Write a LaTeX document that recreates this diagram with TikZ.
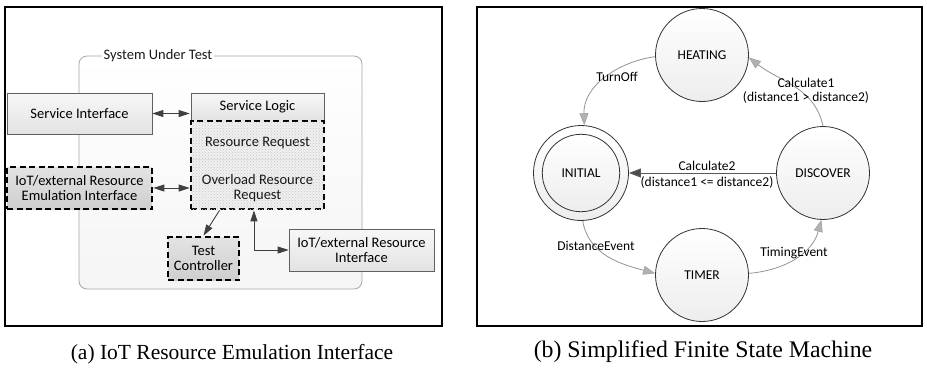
\documentclass[tikz,border=0pt]{standalone}
\usepackage{fontspec}
\setmainfont{Carlito}
\newfontfamily\capfont{Liberation Serif}
\usetikzlibrary{arrows.meta,patterns,calc}
\begin{document}
\begin{tikzpicture}[x=1pt,y=1pt,
  frame/.style={draw=black,line width=2.7pt},
  plainbox/.style={draw=gray!75!black,line width=0.8pt,top color=gray!6,bottom color=gray!22,
    font=\fontsize{14.5}{16}\selectfont,align=center,inner sep=1pt},
  dashbox/.style={draw=black,line width=2.8pt,dash pattern=on 6pt off 3.5pt,top color=gray!22,bottom color=gray!38,
    font=\fontsize{14.5}{16}\selectfont,align=center,inner sep=1pt},
  txt/.style={font=\fontsize{14.5}{16}\selectfont,align=center,text=black!90},
  conn/.style={draw=black!75,line width=0.9pt,{Triangle[length=11pt,width=7pt]}-{Triangle[length=11pt,width=7pt]}},
  conn1/.style={draw=black!75,line width=0.9pt,-{Triangle[length=11pt,width=7pt]}},
  fsmstate/.style={circle,draw=black!80,line width=0.8pt,top color=white,bottom color=gray!14,
    font=\fontsize{13.5}{15}\selectfont,inner sep=0pt},
  fsmedge/.style={draw=gray!85,line width=0.8pt,-{Triangle[length=12pt,width=9pt,fill=gray!60,color=gray!70]}},
  lbl/.style={font=\fontsize{13.5}{15}\selectfont,align=center,inner sep=1pt},
  captxt/.style={font=\capfont\fontsize{21.5}{24}\selectfont}
]
\useasboundingbox (0,0) rectangle (927,-373);
% ---------- panel (a) ----------
\node[frame,minimum width=437,minimum height=319,inner sep=0pt] (fa) at (223.5,-166.5) {};
\draw[draw=gray!70,line width=0.8pt,rounded corners=8pt,top color=white,bottom color=gray!8]
  (79,-56) rectangle (362,-289);
\node[txt,fill=white,inner sep=1.5pt] (sut) at (158,-56) {System Under Test};
\node[plainbox,minimum width=145,minimum height=41] (si) at (79.5,-113.5) {Service Interface};
\node[plainbox,minimum width=133,minimum height=28] (sl) at (257.5,-107) {Service Logic};
\node[draw=black,line width=2.8pt,dash pattern=on 6pt off 3.5pt,fill=gray!12,
  postaction={pattern=crosshatch dots,pattern color=gray!45},
  minimum width=133,minimum height=88,inner sep=0pt] (rb) at (257.5,-165) {};
\draw[gray!25,line width=0.5pt] ($(rb.west)+(2,6)$) -- ($(rb.east)+(-2,6)$);
\node[txt] (rr) at (257.5,-143) {Resource Request};
\node[txt] (orr) at (257.5,-188) {Overload Resource\\[-1pt]Request};
\node[dashbox,minimum width=145,minimum height=42] (em) at (79.5,-188)
  {IoT/external Resource\\[-1pt]Emulation Interface};
\node[dashbox,minimum width=71,minimum height=43] (tc) at (203.5,-258.5) {Test\\[-1pt]Controller};
\node[plainbox,minimum width=145,minimum height=42] (ri) at (361.5,-250)
  {IoT/external Resource\\[-1pt]Interface};
\draw[conn] (si.east) -- (si.east -| rb.west);
\draw[conn] (em.east) -- (em.east -| rb.west);
\coordinate (rbt) at ($(rb.south west)!0.22!(rb.south east)$);
\coordinate (rbr) at ($(rb.south west)!0.474!(rb.south east)$);
\draw[conn1] (rbt) -- (tc.north);
\draw[conn] (rbr) |- (ri.west);
\node[captxt] (ca) at (232,-354) {(a) IoT Resource Emulation Interface};
% ---------- panel (b) ----------
\node[frame,minimum width=445,minimum height=319,inner sep=0pt] (fb) at (699.5,-166.5) {};
\begin{scope}
\clip (478.3,-8.3) rectangle (920.7,-324.7);
\node[fsmstate,minimum size=93] (heat) at (702,-55) {HEATING};
\node[fsmstate,minimum size=95] (init) at (581,-173) {};
\draw[black!80,line width=0.8pt,top color=white,bottom color=gray!14] (init.center) circle (38.7);
\node[lbl] (initt) at (init.center) {INITIAL};
\node[fsmstate,minimum size=93] (disc) at (823,-173) {DISCOVER};
\node[fsmstate,minimum size=93] (timer) at (702,-275) {TIMER};
\end{scope}
\draw[fsmedge] (heat.182) to[out=188,in=92] (init.86);
\node[lbl] (l1) at (617,-77) {TurnOff};
\draw[fsmedge] (disc.90) to[out=102,in=-38] (heat.-3);
\node[lbl] (l2) at (806,-91) {Calculate1\\[-1pt](distance1 > distance2)};
\draw[fsmedge,draw=black!65,line width=0.9pt,-{Triangle[length=12pt,width=9pt,fill=black!70]}] (disc.west) -- (init.east);
\node[lbl] (l3) at (707,-166) {Calculate2};
\node[lbl] (l4) at (707,-182) {(distance1 <= distance2)};
\draw[fsmedge] (init.-88) to[out=-80,in=165] (timer.178);
\node[lbl] (l5) at (596,-246) {DistanceEvent};
\draw[fsmedge] (timer.2) to[out=5,in=-105] (disc.-92);
\node[lbl] (l6) at (794,-253) {TimingEvent};
\node[captxt,font=\capfont\fontsize{23.8}{26}\selectfont] (cb) at (703,-352) {(b) Simplified Finite State Machine};
\end{tikzpicture}
\end{document}
